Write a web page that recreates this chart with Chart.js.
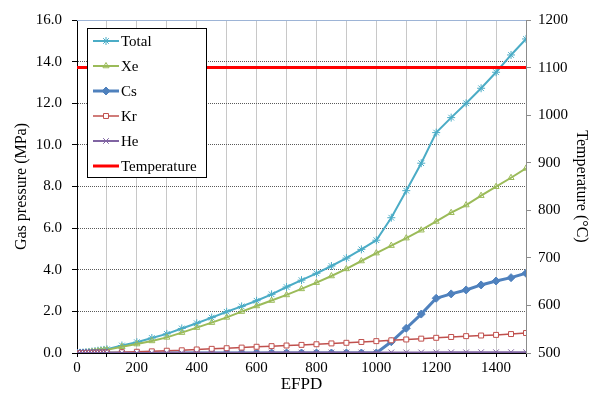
<!DOCTYPE html>
<html>
<head>
<meta charset="utf-8">
<script src="https://cdn.jsdelivr.net/npm/chart.js@4.4.1/dist/chart.umd.min.js"></script>
<style>
  html, body { margin: 0; padding: 0; background: #fff; }
  canvas { display: block; }
</style>
</head>
<body>
<canvas id="gasChart" width="593" height="408"></canvas>
<script>
// EFPD sample points
var efpd = [0, 10, 20, 30, 40, 50, 60, 70, 80, 90, 100,
    150, 200, 250, 300, 350, 400, 450, 500, 550, 600, 650, 700, 750,
    800, 850, 900, 950, 1000, 1050, 1100, 1150, 1200, 1250, 1300, 1350, 1400, 1450, 1500];

// gas pressure (MPa)
var total = [0, 0.01, 0.02, 0.04, 0.05, 0.07, 0.09, 0.11, 0.13, 0.15, 0.18,
    0.36, 0.52, 0.72, 0.92, 1.18, 1.43, 1.70, 1.98, 2.24, 2.51, 2.82, 3.17, 3.50,
    3.83, 4.18, 4.56, 4.98, 5.42, 6.50, 7.80, 9.12, 10.59, 11.31, 12.00, 12.72, 13.49, 14.32, 15.09];
var xe = [0, 0.01, 0.02, 0.03, 0.04, 0.06, 0.07, 0.09, 0.11, 0.13, 0.15,
    0.30, 0.43, 0.58, 0.75, 0.98, 1.22, 1.46, 1.71, 1.99, 2.26, 2.52, 2.79, 3.08,
    3.38, 3.70, 4.04, 4.42, 4.80, 5.16, 5.52, 5.90, 6.32, 6.74, 7.11, 7.56, 7.99, 8.42, 8.87];
var cs = [0, 0, 0, 0, 0, 0, 0, 0, 0, 0, 0,
    0, 0, 0, 0, 0, 0, 0, 0, 0, 0, 0, 0, 0,
    0, 0, 0, 0, 0, 0.54, 1.19, 1.87, 2.63, 2.84, 3.03, 3.27, 3.46, 3.62, 3.83];
var kr = [0, 0.002, 0.004, 0.006, 0.008, 0.01, 0.012, 0.014, 0.016, 0.018, 0.02,
    0.04, 0.06, 0.08, 0.11, 0.13, 0.17, 0.20, 0.23, 0.26, 0.30, 0.33, 0.36, 0.39,
    0.42, 0.46, 0.49, 0.53, 0.57, 0.61, 0.65, 0.69, 0.73, 0.77, 0.81, 0.84, 0.87, 0.91, 0.96];
var he = [0, 0, 0, 0, 0, 0, 0, 0, 0, 0, 0,
    0, 0.005, 0.005, 0.01, 0.01, 0.01, 0.01, 0.015, 0.015, 0.015, 0.02, 0.02, 0.02,
    0.02, 0.025, 0.025, 0.025, 0.03, 0.03, 0.03, 0.03, 0.035, 0.035, 0.035, 0.04, 0.04, 0.04, 0.04];

// temperature (°C), right axis
var tempEfpd = [0, 1500];
var temperature = [1100, 1100];

var xTicks = [0, 200, 400, 600, 800, 1000, 1200, 1400];

function pairs(xs, ys) {
    return xs.map(function (x, i) { return {x: x, y: ys[i]}; });
}

var serif = "'Liberation Serif', 'Times New Roman', serif";

// legend drawn inside the plot, with a box
var insideLegend = {
    id: 'insideLegend',
    afterDraw: function (chart) {
        var c = chart.ctx;
        var area = chart.chartArea;
        c.save();
        // top border of the plot
        c.strokeStyle = '#9db4d6';
        c.lineWidth = 1;
        c.beginPath();
        c.moveTo(area.left, area.top + 0.5);
        c.lineTo(area.right, area.top + 0.5);
        c.stroke();

        var bx = 87.5, by = 28.5, bw = 119, bh = 149;
        c.fillStyle = '#fff';
        c.fillRect(bx, by, bw, bh);
        c.strokeStyle = '#000';
        c.lineWidth = 1;
        c.strokeRect(bx, by, bw, bh);

        c.font = '15px ' + serif;
        c.textBaseline = 'middle';
        chart.data.datasets.forEach(function (ds, i) {
            var y = 41 + i * 25;
            c.strokeStyle = ds.borderColor;
            c.lineWidth = ds.borderWidth;
            c.beginPath();
            c.moveTo(93, y);
            c.lineTo(119, y);
            c.stroke();
            if (ds.pointRadius > 0) {
                c.strokeStyle = ds.pointBorderColor || ds.borderColor;
                c.fillStyle = ds.pointBackgroundColor || ds.backgroundColor;
                c.lineWidth = ds.pointBorderWidth || 1;
                Chart.helpers.drawPoint(c, {
                    pointStyle: ds.pointStyle,
                    radius: ds.pointRadius,
                    rotation: 0,
                    borderWidth: ds.pointBorderWidth || 1
                }, 106, y);
            }
            c.fillStyle = '#000';
            c.fillText(ds.label, 121, y + 1);
        });
        c.restore();
    }
};

var ctx = document.getElementById('gasChart');
var chart = new Chart(ctx, {
    type: 'line',
    data: {
        datasets: [{
            label: 'Total',
            data: pairs(efpd, total),
            borderColor: '#4bacc6',
            backgroundColor: '#4bacc6',
            pointBorderColor: '#4bacc6',
            borderWidth: 2,
            pointStyle: 'star',
            pointRadius: 4,
            pointBorderWidth: 1,
            order: 5
        }, {
            label: 'Xe',
            data: pairs(efpd, xe),
            borderColor: '#9bbb59',
            backgroundColor: 'rgba(255,255,255,0)',
            pointBackgroundColor: 'rgba(255,255,255,0)',
            pointBorderColor: '#9bbb59',
            borderWidth: 2,
            pointStyle: 'triangle',
            pointRadius: 3.5,
            pointBorderWidth: 1,
            order: 4
        }, {
            label: 'Cs',
            data: pairs(efpd, cs),
            borderColor: '#4f81bd',
            backgroundColor: '#4f81bd',
            pointBackgroundColor: '#4f81bd',
            pointBorderColor: '#4f81bd',
            borderWidth: 3,
            pointStyle: 'rectRot',
            pointRadius: 4,
            pointBorderWidth: 1,
            order: 3
        }, {
            label: 'Kr',
            data: pairs(efpd, kr),
            borderColor: '#c0504d',
            backgroundColor: '#fff',
            pointBackgroundColor: '#fff',
            pointBorderColor: '#c0504d',
            borderWidth: 1.5,
            pointStyle: 'rect',
            pointRadius: 3.5,
            pointBorderWidth: 1,
            order: 2
        }, {
            label: 'He',
            data: pairs(efpd, he),
            borderColor: '#8064a2',
            backgroundColor: '#8064a2',
            pointBorderColor: '#8064a2',
            borderWidth: 2,
            pointStyle: 'crossRot',
            pointRadius: 4,
            pointBorderWidth: 1,
            order: 1
        }, {
            label: 'Temperature',
            data: pairs(tempEfpd, temperature),
            yAxisID: 'y2',
            borderColor: '#ff0000',
            backgroundColor: '#ff0000',
            borderWidth: 3,
            pointRadius: 0,
            order: 0
        }]
    },
    options: {
        responsive: false,
        animation: false,
        layout: {padding: {top: 20, left: 0, right: 0, bottom: 0}},
        plugins: {
            legend: {display: false},
            tooltip: {enabled: false}
        },
        scales: {
            x: {
                type: 'linear',
                min: 0,
                max: 1500,
                afterFit: function (s) { s.height = 55; },
                ticks: {
                    stepSize: 100,
                    maxRotation: 0,
                    autoSkip: false,
                    padding: 2,
                    color: '#000',
                    font: {family: serif, size: 15},
                    callback: function (v) { return xTicks.indexOf(v) >= 0 ? String(v) : ''; }
                },
                grid: {color: '#c8c8c8', lineWidth: 1, tickLength: 4, tickColor: '#000'},
                border: {color: '#000'},
                title: {
                    display: true,
                    text: 'EFPD',
                    color: '#000',
                    font: {family: serif, size: 17},
                    padding: {top: 0, bottom: 13}
                }
            },
            y: {
                position: 'left',
                min: 0,
                max: 16,
                afterFit: function (s) { s.width = 77; },
                ticks: {
                    stepSize: 2,
                    padding: 10,
                    color: '#000',
                    font: {family: serif, size: 15},
                    callback: function (v) { return v.toFixed(1); }
                },
                grid: {color: '#5a5a5a', lineWidth: 1, tickLength: 5, tickColor: '#000', tickBorderDash: []},
                border: {color: '#000', dash: [1, 1]},
                title: {
                    display: true,
                    text: 'Gas pressure (MPa)',
                    color: '#000',
                    font: {family: serif, size: 16},
                    padding: {top: 12, bottom: 0}
                }
            },
            y2: {
                position: 'right',
                min: 500,
                max: 1200,
                afterFit: function (s) { s.width = 67; },
                ticks: {
                    stepSize: 100,
                    padding: 7,
                    color: '#000',
                    font: {family: serif, size: 15},
                    callback: function (v) { return String(v); }
                },
                grid: {drawOnChartArea: false, tickLength: 5, tickColor: '#8c8c8c'},
                border: {color: '#8c8c8c'},
                title: {
                    display: true,
                    text: 'Temperature (°C)',
                    color: '#000',
                    font: {family: serif, size: 16},
                    padding: {top: 2, bottom: 0}
                }
            }
        }
    },
    plugins: [insideLegend]
});
</script>
</body>
</html>
